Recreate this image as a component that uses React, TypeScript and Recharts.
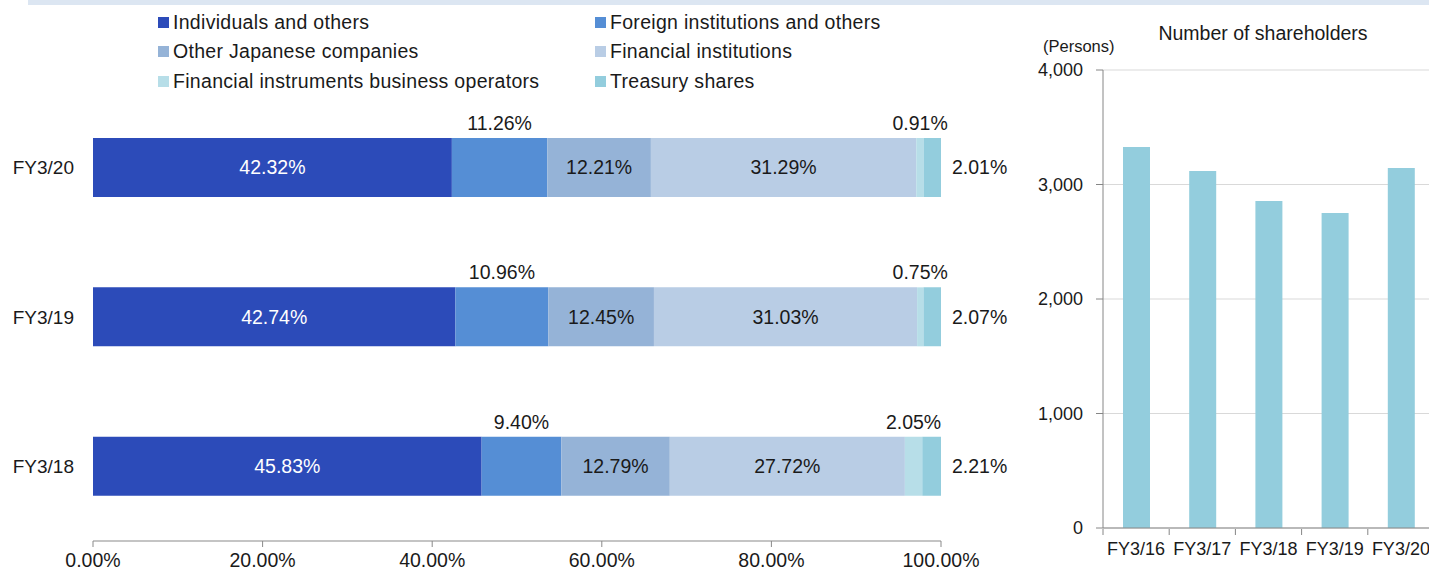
import React from 'react';
import { BarChart, Bar, XAxis, YAxis, CartesianGrid, LabelList } from 'recharts';

const years = ['FY3/20', 'FY3/19', 'FY3/18'];
const individuals = [42.32, 42.74, 45.83];
const foreign = [11.26, 10.96, 9.40];
const otherJapanese = [12.21, 12.45, 12.79];
const financialInst = [31.29, 31.03, 27.72];
const instrumentsOps = [0.91, 0.75, 2.05];
const treasury = [2.01, 2.07, 2.21];
const pctTicks = [0, 20, 40, 60, 80, 100];

const shYears = ['FY3/16', 'FY3/17', 'FY3/18', 'FY3/19', 'FY3/20'];
const shareholders = [3328, 3118, 2856, 2751, 3144];
const shTicks = [0, 1000, 2000, 3000, 4000];

const seriesNames = [
  'Individuals and others',
  'Foreign institutions and others',
  'Other Japanese companies',
  'Financial institutions',
  'Financial instruments business operators',
  'Treasury shares',
];
const seriesColors = ['#2c4bb9', '#558ed5', '#95b3d7', '#b9cde5', '#b7dee8', '#93cddd'];

const FONT = '"Liberation Sans", Arial, sans-serif';
const TXT = '#1a1a1a';
const LBL = 19.5;

const mixData = years.map((y, i) => ({
  year: y,
  s0: individuals[i],
  s1: foreign[i],
  s2: otherJapanese[i],
  s3: financialInst[i],
  s4: instrumentsOps[i],
  s5: treasury[i],
}));

const shData = shYears.map((y, i) => ({ year: y, value: shareholders[i] }));

const fmtPct = (v: any) => `${Number(v).toFixed(2)}%`;

const SH_W = 424;
const SH_LEFT_M = 0;
const SH_YW = 93;
const SH_RIGHT_M = 0;

const ShTick = (props: any) => {
  const { x, y, payload } = props;
  const plotW = SH_W - SH_LEFT_M - SH_YW - SH_RIGHT_M;
  const half = plotW / shYears.length / 2;
  const isLast = payload.index === shYears.length - 1;
  return (
    <g>
      <line x1={x - half} x2={x - half} y1={y - 7} y2={y - 1} stroke="#868686" strokeWidth={1} />
      {isLast && <line x1={x + half} x2={x + half} y1={y - 7} y2={y - 1} stroke="#868686" strokeWidth={1} />}
      <text x={x} y={y + 6} textAnchor="middle" dominantBaseline="hanging" fontSize={18} fontFamily={FONT} fill={TXT}>
        {payload.value}
      </text>
    </g>
  );
};

export default function App() {
  const legendRows = [
    [0, 1],
    [2, 3],
    [4, 5],
  ];
  return (
    <div style={{ position: 'absolute', left: 0, top: 0, width: 1429, height: 571, overflow: 'hidden', background: '#fff', fontFamily: FONT }}>
      <div style={{ position: 'absolute', left: 28, top: 0, width: 1401, height: 5, background: '#dce6f2' }} />
      {legendRows.map((row, r) =>
        row.map((si, c) => (
          <div
            key={si}
            style={{
              position: 'absolute',
              left: c === 0 ? 158 : 595,
              top: 11 + r * 29.5,
              height: 22,
              display: 'flex',
              alignItems: 'center',
              fontSize: 19.5,
              letterSpacing: 0.3,
              color: TXT,
              whiteSpace: 'nowrap',
            }}
          >
            <span style={{ display: 'inline-block', width: 11, height: 11, background: seriesColors[si], marginRight: 4 }} />
            <span>{seriesNames[si]}</span>
          </div>
        ))
      )}

      <div style={{ position: 'absolute', left: 0, top: 0 }}>
        <BarChart
          width={1010}
          height={571}
          data={mixData}
          layout="vertical"
          margin={{ top: 93, right: 69, bottom: 0, left: 0 }}
          barSize={59}
        >
          <XAxis
            type="number"
            domain={[0, 100]}
            ticks={pctTicks}
            tickFormatter={fmtPct}
            height={30}
            stroke="#898989"
            tickSize={6}
            tickMargin={6}
            tick={{ fontSize: LBL, fill: TXT, fontFamily: FONT }}
            interval={0}
            allowDataOverflow
          />
          <YAxis
            type="category"
            dataKey="year"
            width={93}
            axisLine={false}
            tickLine={false}
            tickMargin={13}
            tick={{ fontSize: 19, fill: TXT, fontFamily: FONT }}
          />
          <Bar dataKey="s0" stackId="a" fill={seriesColors[0]} isAnimationActive={false}>
            <LabelList dataKey="s0" position="center" formatter={fmtPct} fill="#ffffff" fontSize={LBL} fontFamily={FONT} />
          </Bar>
          <Bar dataKey="s1" stackId="a" fill={seriesColors[1]} isAnimationActive={false}>
            <LabelList dataKey="s1" position="top" offset={8} formatter={fmtPct} fill={TXT} fontSize={LBL} fontFamily={FONT} />
          </Bar>
          <Bar dataKey="s2" stackId="a" fill={seriesColors[2]} isAnimationActive={false}>
            <LabelList dataKey="s2" position="center" formatter={fmtPct} fill={TXT} fontSize={LBL} fontFamily={FONT} />
          </Bar>
          <Bar dataKey="s3" stackId="a" fill={seriesColors[3]} isAnimationActive={false}>
            <LabelList dataKey="s3" position="center" formatter={fmtPct} fill={TXT} fontSize={LBL} fontFamily={FONT} />
          </Bar>
          <Bar dataKey="s4" stackId="a" fill={seriesColors[4]} isAnimationActive={false}>
            <LabelList dataKey="s4" position="top" offset={8} formatter={fmtPct} fill={TXT} fontSize={LBL} fontFamily={FONT} />
          </Bar>
          <Bar dataKey="s5" stackId="a" fill={seriesColors[5]} isAnimationActive={false}>
            <LabelList dataKey="s5" position="right" offset={11} formatter={fmtPct} fill={TXT} fontSize={LBL} fontFamily={FONT} />
          </Bar>
        </BarChart>
      </div>

      <div style={{ position: 'absolute', left: 1010, top: 0 }}>
        <BarChart
          width={SH_W}
          height={571}
          data={shData}
          margin={{ top: 70, right: SH_RIGHT_M, bottom: 0, left: SH_LEFT_M }}
          barSize={27}
        >
          <text x={253} y={33} textAnchor="middle" dominantBaseline="central" fontSize={19.5} fontFamily={FONT} fill={TXT}>
            Number of shareholders
          </text>
          <text x={33} y={46} textAnchor="start" dominantBaseline="central" fontSize={16.5} fontFamily={FONT} fill={TXT}>
            (Persons)
          </text>
          <CartesianGrid vertical={false} stroke="#d9d9d9" />
          <XAxis
            dataKey="year"
            height={43}
            stroke="#868686"
            tickLine={false}
            tick={<ShTick />}
            interval={0}
          />
          <YAxis
            type="number"
            domain={[0, 4000]}
            ticks={shTicks}
            width={SH_YW}
            stroke="#868686"
            tickSize={7}
            tickMargin={13}
            tickFormatter={(v: any) => Number(v).toLocaleString('en-US')}
            tick={{ fontSize: 18, fill: TXT, fontFamily: FONT }}
            interval={0}
          />
          <Bar dataKey="value" fill="#93cddd" isAnimationActive={false} />
        </BarChart>
      </div>
    </div>
  );
}
